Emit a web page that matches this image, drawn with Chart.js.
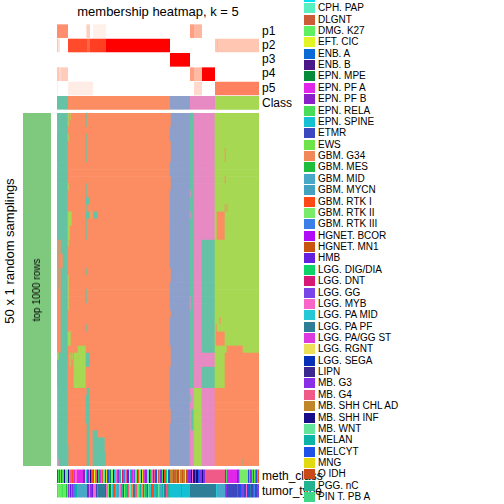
<!DOCTYPE html>
<html><head><meta charset="utf-8">
<script src="https://cdn.jsdelivr.net/npm/chart.js@4"></script>
<style>
html,body{margin:0;padding:0;background:#fff;}
#wrap{position:relative;width:504px;height:504px;overflow:hidden;font-family:"Liberation Sans",Arial,sans-serif;color:#000;}
canvas{position:absolute;}
.t{position:absolute;white-space:nowrap;}
</style></head><body><div id="wrap">
<canvas id="leftbar" width="28" height="353" style="left:23px;top:113px"></canvas>
<canvas id="top" width="202" height="86" style="left:57px;top:24px"></canvas>
<canvas id="main" width="202" height="353" style="left:57px;top:113px"></canvas>
<canvas id="bottom" width="202" height="29" style="left:57px;top:469px"></canvas>
</div>
<script>
// ---------------- data ----------------
const NCOL = 202;           // samples (columns)
const NROW = 50;            // 50 x 1 random samplings
const titleText = 'membership heatmap, k = 5';
const rowTitle = '50 x 1 random samplings';
const rowGroup = 'top 1000 rows';
const topRows = ['p1','p2','p3','p4','p5','Class'];
const bottomRows = ['meth_class','tumor_type'];
const classColors = ['#66c2a5','#fc8d62','#8da0cb','#e78ac3','#a6d854'];

// membership probabilities: [fromSample, toSample, value]
const p1Runs = [[0,11,0.58],[29,30,0.15],[30,33,0.25],[36,49,0.08],[133,137,0.5],[137,145,0.38]];
const p2Runs = [[0,1,0.3],[1,3,0.15],[11,30,0.86],[30,33,0.76],[33,49,0.9],[49,113,1],[158,160,0.3],[160,161,0.36],[161,202,0.3]];
const p3Runs = [[113,133,1]];
const p4Runs = [[0,2,0.3],[2,4,0.2],[4,11,0.27],[133,137,0.5],[137,145,0.36],[145,158,1]];
const p5Runs = [[0,1,0.1],[11,36,0.1],[137,145,0.2],[158,202,0.64]];
// consensus class: [from, to, class]
const classRuns = [[0,11,1],[11,113,2],[113,133,3],[133,158,4],[158,202,5]];

// per-sampling class: base bands then patches [row0,row1,col0,col1,class]
const baseBands = [[0,11,1],[11,113,2],[113,133,3],[133,137,1],[137,158,4],[158,202,5]];
const patches = [
 [18,34,145,158,1],[36,39,145,158,1],
 [39,50,133,137,4],[39,50,137,145,5],[39,50,145,158,4],[39,50,158,202,2],
 [42,45,134,137,1],[40,41,133,134,1],
 [14,18,160,168,2],[30,31,159,160,2],[31,33,159,168,2],[33,34,170,186,2],[34,39,168,202,2],
 [5,7,168,169,2],[9,10,168,169,2],[13,14,168,169,2],[13,14,170,171,2],[29,30,163,164,2],
 [49,50,186,187,1],
 [0,2,113,114,2],[4,7,113,114,2],[9,11,113,114,2],[22,24,113,114,2],[28,29,113,114,2],[33,36,113,114,2],[42,44,113,114,2],
 [11,12,133,134,4],[14,15,133,134,4],[26,28,133,134,4],
 [0,2,11,12,5],[0,1,13,14,5],[3,4,11,12,5],[10,11,11,12,5],[14,16,11,15,5],[16,18,11,13,5],[25,28,11,12,5],[31,33,11,14,5],
 [0,2,29,30,1],[3,7,29,30,1],[10,18,29,30,1],[12,13,29,33,1],[14,15,29,33,1],[14,15,37,41,1],[14,15,34,35,5],[25,27,29,30,1],[22,23,29,30,1],[30,31,29,30,1],
 [1,3,0,1,4],[7,8,0,1,4],
 [18,25,0,2,2],[18,25,3,4,2],[20,22,4,6,2],[18,19,11,12,5],[23,25,11,12,5],
 [25,34,0,4,2],[25,27,0,1,4],[29,31,0,1,4],
 [33,34,21,29,5],
 [34,39,17,29,5],[34,36,13,14,5],[34,35,15,16,5],[34,36,29,33,1],[34,35,0,2,5],[36,39,0,1,4],
 [39,50,0,1,5],[39,50,30,33,1],[40,44,29,30,1],[45,50,36,41,1],[46,50,41,48,1],[48,50,48,49,1],[47,50,12,13,1],[49,50,1,2,4]
];

// legend
const legendNames = ['CPH. ADM','CPH. PAP','DLGNT','DMG. K27','EFT. CIC','ENB. A','ENB. B','EPN. MPE','EPN. PF A','EPN. PF B','EPN. RELA','EPN. SPINE','ETMR','EWS','GBM. G34','GBM. MES','GBM. MID','GBM. MYCN','GBM. RTK I','GBM. RTK II','GBM. RTK III','HGNET. BCOR','HGNET. MN1','HMB','LGG. DIG/DIA','LGG. DNT','LGG. GG','LGG. MYB','LGG. PA MID','LGG. PA PF','LGG. PA/GG ST','LGG. RGNT','LGG. SEGA','LIPN','MB. G3','MB. G4','MB. SHH CHL AD','MB. SHH INF','MB. WNT','MELAN','MELCYT','MNG','O IDH','PGG. nC','PIN T. PB A','PIN T. PB B'];
const legendColors = ['#00e0f0','#58f0c0','#cc5c38','#5ef060','#e2f424','#0a6ad6','#4a1888','#068a3c','#e026e8','#8a1ec8','#48dc58','#14c0d2','#3c48c0','#6ee44a','#f08858','#1ebe3c','#48a8c8','#42a2c0','#ff4a18','#78ec68','#3a80e8','#b00cf8','#c85410','#6420dc','#0ed266','#d81876','#7846e8','#f866c8','#26c8d6','#2e7e98','#dc3ae0','#ece058','#0630b8','#3a2a90','#8a2ee8','#f05a88','#c2862a','#180c88','#62e49a','#0cb4a8','#1e52e8','#e2da10','#c84a18','#22b490','#3ed888','#e03ed8'];

// annotation runs: [width, category]
const methRuns = [
 [1,'ETMR'],[1,'EPN. RELA'],[1,'LGG. PA PF'],[1,'EWS'],[1,'MB. G3'],[2,'EPN. RELA'],[1,'MB. SHH INF'],[3,'MB. WNT'],[1,'MB. SHH INF'],[1,'EPN. RELA'],[2,'MB. G4'],[1,'GBM. RTK I'],[1,'LGG. DIG/DIA'],[1,'EPN. PF A'],[2,'LGG. MYB'],
 [6,'EPN. PF A'],[2,'EPN. PF B'],
 [1,'MNG'],[1,'LGG. PA MID'],[2,'MB. G3'],[1,'EPN. RELA'],[1,'MB. SHH INF'],[2,'GBM. RTK I'],[1,'LGG. PA PF'],[1,'EFT. CIC'],[2,'MB. G4'],[1,'ENB. B'],[1,'LGG. DIG/DIA'],[2,'EPN. PF A'],[1,'GBM. MID'],[1,'DLGNT'],[2,'MB. WNT'],[1,'ETMR'],[1,'MNG'],[2,'MELCYT'],[1,'LGG. PA/GG ST'],[1,'EPN. MPE'],[2,'GBM. RTK II'],[1,'MB. SHH INF'],[1,'EPN. SPINE'],[2,'LGG. MYB'],[1,'HGNET. MN1'],[1,'MB. G3'],[2,'PGG. nC'],[1,'EFT. CIC'],[1,'LGG. DNT'],[2,'GBM. RTK III'],[1,'EPN. RELA'],[1,'MB. G4'],[2,'HMB'],[1,'LGG. RGNT'],[1,'MELAN'],[2,'EPN. PF A'],[1,'MB. SHH CHL AD'],[1,'LGG. GG'],[2,'DMG. K27'],[1,'ENB. A'],[1,'GBM. RTK I'],[2,'MB. WNT'],[1,'LIPN'],[1,'MNG'],[2,'LGG. PA/GG ST'],[1,'EPN. MPE'],[1,'MB. G3'],[2,'CPH. PAP'],[1,'MB. SHH INF'],[1,'GBM. MES'],[2,'LGG. MYB'],[1,'EPN. PF B'],[1,'MB. G4'],[2,'MELCYT'],[1,'EFT. CIC'],[1,'DLGNT'],
 [1,'LGG. PA MID'],[2,'MB. G3'],[1,'EPN. RELA'],[1,'MB. SHH INF'],[2,'GBM. RTK I'],[1,'LGG. DIG/DIA'],[1,'EFT. CIC'],[2,'ENB. A'],
 [3,'MB. SHH CHL AD'],[1,'HGNET. MN1'],[2,'DLGNT'],[1,'MB. SHH CHL AD'],[2,'O IDH'],[1,'MNG'],[2,'MB. SHH CHL AD'],[1,'HGNET. MN1'],[2,'MB. SHH CHL AD'],[1,'EFT. CIC'],[2,'O IDH'],
 [3,'MB. G3'],[1,'MB. SHH INF'],[1,'LGG. MYB'],[2,'MB. SHH INF'],[1,'MB. G3'],[2,'MB. SHH INF'],[1,'MELCYT'],[3,'MB. G3'],[1,'MB. SHH INF'],[2,'MB. G3'],
 [20,'MB. G4'],
 [1,'MELCYT'],[1,'EPN. RELA'],[10,'EPN. PF A'],
 [1,'MELCYT'],[1,'MB. G3'],[1,'LGG. PA MID'],
 [8,'GBM. RTK II'],
 [1,'MELCYT'],[1,'EPN. RELA'],[1,'MB. G3'],[1,'LGG. PA PF'],[1,'EPN. RELA'],[1,'MB. G3'],[1,'EWS'],[1,'LGG. PA/GG ST'],[1,'MELCYT'],[1,'LGG. DIG/DIA'],[1,'GBM. RTK I']
];
const tumorRuns = [
 [1,'EPN. RELA'],[1,'GBM. RTK II'],[2,'DMG. K27'],[1,'EWS'],[1,'EPN. RELA'],[3,'DMG. K27'],[1,'GBM. MES'],[1,'EWS'],
 [1,'MB. G3'],[1,'LGG. PA MID'],[1,'HMB'],[1,'PGG. nC'],[1,'MB. G3'],[2,'GBM. RTK III'],[1,'LGG. PA/GG ST'],[1,'MELAN'],
 [10,'GBM. MID'],
 [1,'MELCYT'],[1,'EPN. PF B'],[1,'LGG. PA MID'],[2,'MB. G3'],[1,'HMB'],[3,'LGG. MYB'],[1,'ETMR'],[1,'MELAN'],
 [7,'LGG. PA PF'],
 [1,'LGG. DNT'],[2,'LGG. MYB'],[1,'DMG. K27'],[2,'EPN. MPE'],[1,'MB. WNT'],[1,'LGG. PA MID'],[2,'GBM. RTK I'],[1,'MB. G4'],[1,'LGG. PA MID'],[2,'GBM. MID'],[1,'MB. WNT'],[1,'LGG. MYB'],[2,'PGG. nC'],[1,'HMB'],[1,'DMG. K27'],[2,'LGG. DIG/DIA'],[1,'GBM. RTK I'],[1,'MB. G4'],[2,'CPH. PAP'],[1,'LGG. MYB'],[1,'GBM. G34'],[2,'LGG. PA PF'],[1,'EPN. SPINE'],[1,'MB. G4'],[2,'DMG. K27'],[1,'PIN T. PB A'],[1,'MELAN'],[2,'GBM. G34'],[1,'LGG. GG'],[1,'EPN. RELA'],[2,'PGG. nC'],[1,'LGG. DNT'],[1,'MB. WNT'],[2,'LGG. PA MID'],[1,'EPN. PF A'],[2,'GBM. RTK I'],[1,'EPN. SPINE'],[1,'MB. G4'],[2,'PGG. nC'],[1,'MB. WNT'],[1,'LGG. MYB'],[2,'GBM. MID'],[1,'MELAN'],[1,'EPN. RELA'],[2,'LGG. PA PF'],[1,'MB. G4'],[2,'PGG. nC'],[1,'LGG. DIG/DIA'],
 [11,'EPN. SPINE'],[1,'MELAN'],[8,'EPN. SPINE'],
 [25,'LGG. PA PF'],
 [1,'LGG. PA PF'],[1,'LGG. PA MID'],[8,'GBM. MID'],[1,'LGG. PA PF'],[1,'MB. G3'],
 [10,'ETMR'],
 [1,'LGG. PA PF'],[2,'ETMR'],[1,'MELCYT'],[2,'LGG. GG'],[1,'LGG. PA PF'],[2,'ETMR'],[1,'LGG. MYB'],[1,'ETMR'],[2,'MELCYT'],[1,'LGG. PA PF'],[2,'ETMR'],[1,'LGG. GG'],[1,'GBM. RTK III'],[2,'ETMR'],[2,'LGG. GG']
];

// ---------------- helpers ----------------
function lab2rgb(L,a,b){
  let y=(L+16)/116, x=a/500+y, z=y-b/200;
  const f=t=> t*t*t>0.008856 ? t*t*t : (t-16/116)/7.787;
  x=0.95047*f(x); y=f(y); z=1.08883*f(z);
  const r=x*3.2406-y*1.5372-z*0.4986, g=-x*0.9689+y*1.8758+z*0.0415, bb=x*0.0557-y*0.2040+z*1.0570;
  const gam=c=> c>0.0031308 ? 1.055*Math.pow(c,1/2.4)-0.055 : 12.92*c;
  return 'rgb('+[r,g,bb].map(c=>Math.round(255*Math.min(1,Math.max(0,gam(c))))).join(',')+')';
}
function probColor(v){ return lab2rgb(100+(53.24-100)*v, 80.09*v, 67.20*v); }
const catColor = {};
legendNames.forEach((n,i)=>catColor[n]=legendColors[i]);

function heat(id, rows, data, pct, xmax){
  return new Chart(document.getElementById(id), {
    type:'bar',
    data:{labels:rows, datasets:[{data:data, backgroundColor:ctx=>ctx.raw?ctx.raw.c:'#fff', borderWidth:0, barPercentage:pct, categoryPercentage:1, grouped:false}]},
    options:{indexAxis:'y', responsive:false, animation:false, events:[], devicePixelRatio:1,
      layout:{padding:0},
      plugins:{legend:{display:false}, tooltip:{enabled:false}},
      scales:{x:{type:'linear', min:0, max:xmax, display:false}, y:{type:'category', display:false, offset:true}}}
  });
}

// top annotations
const topData = [];
[p1Runs,p2Runs,p3Runs,p4Runs,p5Runs].forEach((runs,i)=>runs.forEach(([a,b,v])=>topData.push({y:topRows[i], x:[a,b], c:probColor(v)})));
classRuns.forEach(([a,b,k])=>topData.push({y:'Class', x:[a,b], c:classColors[k-1]}));
heat('top', topRows, topData, 0.95, NCOL);

// main heatmap
const grid = [];
for(let r=0;r<NROW;r++){ const row=new Array(NCOL); baseBands.forEach(([a,b,k])=>{for(let c=a;c<b;c++)row[c]=k;}); grid.push(row); }
patches.forEach(([r0,r1,c0,c1,k])=>{ for(let r=r0;r<r1;r++) for(let c=c0;c<c1;c++) grid[r][c]=k; });
const mainRows = [], mainData = [];
for(let r=0;r<NROW;r++){
  mainRows.push(String(r));
  let s=0;
  for(let c=1;c<=NCOL;c++){
    if(c===NCOL || grid[r][c]!==grid[r][s]){ mainData.push({y:String(r), x:[s,c], c:classColors[grid[r][s]-1]}); s=c; }
  }
}
heat('main', mainRows, mainData, 1, NCOL);

// bottom annotations
const botData = [];
[methRuns, tumorRuns].forEach((runs,i)=>{ let s=0; runs.forEach(([w,n])=>{ botData.push({y:bottomRows[i], x:[s,s+w], c:catColor[n]}); s+=w; }); });
heat('bottom', bottomRows, botData, 0.93, NCOL);

// left row-group bar
heat('leftbar', [rowGroup], [{y:rowGroup, x:[0,1], c:'#7fc97f'}], 1, 1);

// ---------------- texts ----------------
const wrap = document.getElementById('wrap');
function txt(s, css){ const d=document.createElement('div'); d.className='t'; d.textContent=s; d.style.cssText+=css; wrap.appendChild(d); return d; }
txt(titleText, 'left:57px;width:202px;text-align:center;top:4px;font-size:13px;line-height:16px;');
const topCenters = [30.7,44.8,59,73.2,87.5,102.7];
topRows.forEach((n,i)=>txt(n, 'left:262px;top:'+(topCenters[i]-7)+'px;font-size:12px;line-height:14px;'));
txt('meth_class', 'left:262px;top:469px;font-size:12px;line-height:14px;');
txt('tumor_type', 'left:262px;top:484px;font-size:12px;line-height:14px;');
txt(rowTitle, 'left:10px;top:251px;font-size:13px;line-height:16px;transform:translate(-50%,-50%) rotate(-90deg);');
txt(rowGroup, 'left:37px;top:289.5px;font-size:10px;line-height:12px;transform:translate(-50%,-50%) rotate(-90deg);');

// legend
legendNames.forEach((n,i)=>{
  const cy = -3.1 + 11.37*i;
  const sq = document.createElement('div');
  sq.style.cssText = 'position:absolute;left:304px;width:11px;height:10px;top:'+(cy-5)+'px;background:'+legendColors[i]+';z-index:2;';
  wrap.appendChild(sq);
  const d = txt(n, 'left:318px;top:'+(cy-6)+'px;font-size:10px;line-height:12px;z-index:2;');
});
</script>
</body></html>
